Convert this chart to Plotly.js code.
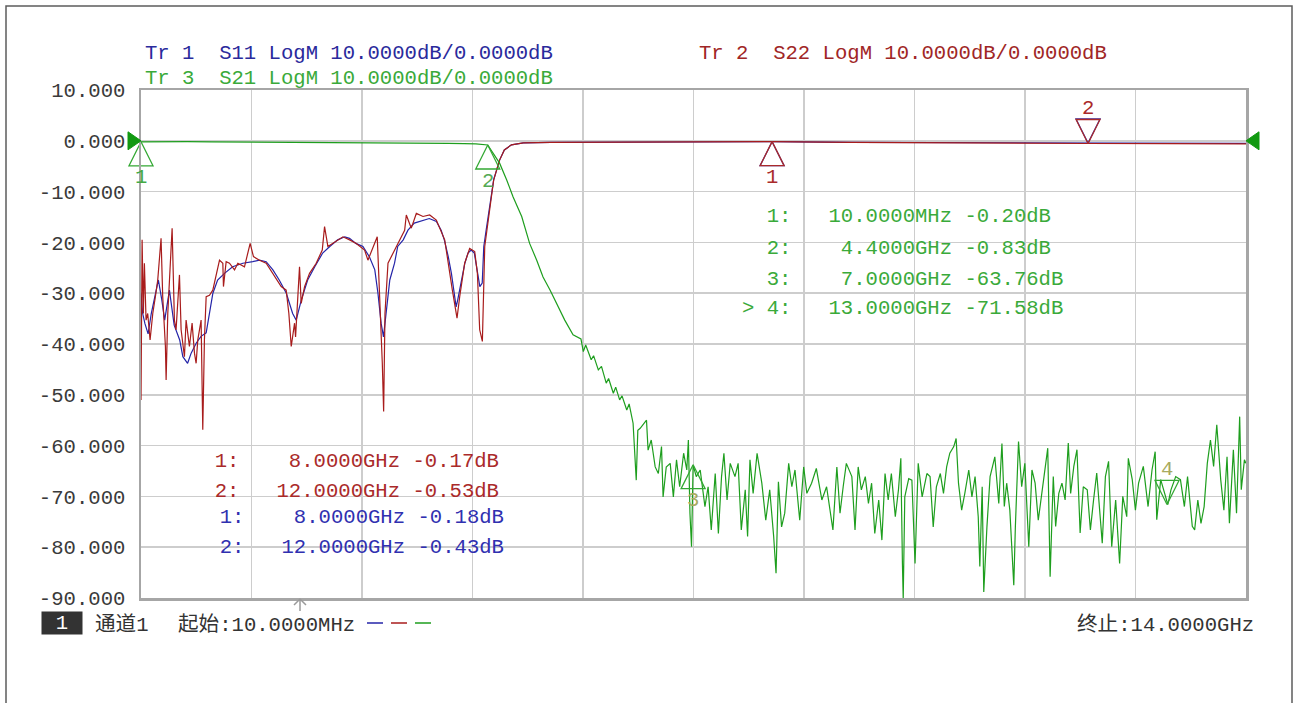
<!DOCTYPE html>
<html><head><meta charset="utf-8">
<script src="https://cdn.plot.ly/plotly-3.0.1.min.js"></script>
<style>html,body{margin:0;padding:0;background:#fff;overflow:hidden}#chart{width:1294px;height:703px}</style>
</head><body><div id="chart"></div><script>
// ---------- sweep / axis settings ----------
const startGHz = 0.01;
const stopGHz = 14.0;
const refLevel = 0;
const yTickVals = [10, 0, -10, -20, -30, -40, -50, -60, -70, -80, -90];
const yTickText = ['10.000', '0.000', '-10.000', '-20.000', '-30.000', '-40.000', '-50.000', '-60.000', '-70.000', '-80.000', '-90.000'];

// ---------- Tr 1 : S11 (blue) ----------
const s11Freq = [0.01,0.03,0.06,0.10,0.14,0.18,0.23,0.27,0.31,0.37,
  0.43,0.50,0.54,0.60,0.645,0.71,0.77,0.835,0.877,0.92,
  0.98,1.067,1.17,1.30,1.425,1.51,1.595,1.68,1.76,1.85,
  1.93,1.975,2.04,2.12,2.21,2.31,2.40,2.50,2.59,2.65,
  2.73,2.82,2.90,2.97,3.01,3.05,3.08,3.12,3.16,3.22,
  3.26,3.33,3.39,3.47,3.58,3.66,3.75,3.81,3.85,3.90,
  3.94,3.97,4.00,4.02,4.07,4.11,4.15,4.19,4.23,4.26,
  4.30,4.33,4.35,4.38,4.42,4.475,4.55,4.61,4.70,4.85,
  5.2,6.0,7.0,8.0,9.0,10.0,11.0,12.0,13.0,14.0];
const s11dB = [-30,-33.9,-36,-38,-34,-31,-27.4,-31,-35.3,-29.4,
  -36.3,-39.2,-42.5,-43.8,-41.8,-39.8,-38.5,-37.8,-33.9,-30,
  -27.4,-26.1,-24.8,-24.1,-23.8,-23.5,-23.8,-25.4,-27.4,-30,
  -34,-35.3,-31.3,-27.4,-24.8,-22.1,-20.8,-19.5,-18.9,-19.2,
  -20.2,-20.8,-22.8,-25.4,-30,-35.9,-38.6,-33,-27.4,-24.1,
  -20.8,-19.5,-17.6,-16.2,-15.6,-15.3,-15.9,-17.6,-19.5,-22.8,
  -26.1,-30,-32.7,-31.3,-27.4,-24.1,-22.1,-21.5,-22.1,-24.8,
  -28.7,-28.0,-20.8,-17.6,-13,-7.7,-3.8,-1.8,-0.8,-0.4,
  -0.3,-0.25,-0.2,-0.18,-0.3,-0.35,-0.4,-0.43,-0.45,-0.5];

// ---------- Tr 2 : S22 (red) ----------
const s22Freq = [0.01,0.024,0.040,0.053,0.074,0.095,0.125,0.159,0.192,0.222,
  0.264,0.285,0.319,0.328,0.349,0.370,0.404,0.433,0.454,0.497,
  0.518,0.560,0.581,0.623,0.657,0.687,0.708,0.729,0.771,0.792,
  0.813,0.835,0.877,0.919,1.004,1.046,1.054,1.088,1.130,1.194,
  1.236,1.320,1.363,1.392,1.434,1.510,1.595,1.679,1.785,1.848,
  1.882,1.912,1.954,1.967,2.017,2.038,2.081,2.144,2.228,2.305,
  2.334,2.376,2.440,2.566,2.651,2.735,2.841,2.883,3.001,3.022,
  3.065,3.082,3.099,3.137,3.200,3.242,3.306,3.348,3.369,3.432,
  3.496,3.580,3.665,3.749,3.855,3.927,3.952,4.011,4.045,4.108,
  4.171,4.235,4.269,4.298,4.332,4.362,4.416,4.475,4.55,4.61,
  4.70,4.85,5.2,6.0,7.0,8.0,9.0,10.0,11.0,12.0,
  13.0,14.0];
const s22dB = [-51.0,-19.5,-34.0,-24.1,-35.3,-34.0,-39.2,-34.0,-30.7,-27.4,
  -19.2,-30.7,-40.5,-47.1,-34.0,-26.7,-17.2,-35.3,-37.2,-26.4,
  -37.2,-42.5,-35.3,-40.5,-35.9,-41.8,-43.8,-39.2,-35.3,-56.9,
  -39.2,-30.7,-30.4,-29.4,-23.5,-24.1,-28.7,-23.8,-24.1,-25.4,
  -24.1,-24.8,-22.2,-20.2,-22.8,-23.5,-24.1,-26.1,-28.7,-29.4,
  -34.0,-40.5,-35.9,-38.6,-24.8,-32.0,-28.7,-26.1,-24.1,-21.5,
  -16.9,-20.8,-20.2,-18.9,-19.5,-20.2,-21.5,-23.5,-18.9,-26.7,
  -43.8,-53.3,-34.0,-24.1,-22.2,-20.8,-18.9,-17.6,-14.6,-17.2,
  -14.3,-14.9,-14.6,-15.6,-19.5,-27.4,-29.4,-34.9,-30.7,-24.1,
  -21.2,-21.8,-26.1,-37.2,-39.5,-20.8,-14.3,-7.7,-3.8,-1.8,
  -0.8,-0.4,-0.3,-0.22,-0.2,-0.17,-0.3,-0.4,-0.45,-0.53,
  -0.55,-0.6];

// ---------- Tr 3 : S21 (green) ----------
const s21PassFreq = [0.01,0.3,0.6,0.9,1.2,1.5,1.8,2.1,2.4,2.7,
  2.9,3.1,3.3,3.5,3.7,3.9,4.1,4.25,4.4];
const s21PassdB = [-0.20,-0.15,-0.18,-0.20,-0.22,-0.20,-0.25,-0.30,-0.28,-0.35,
  -0.30,-0.40,-0.35,-0.45,-0.40,-0.50,-0.55,-0.60,-0.83];
const s21RollFreq = [4.55,4.64,4.72,4.83,4.89,4.93,5.02,5.10,5.19,5.27,
  5.375,5.48,5.58,5.61,5.64,5.71,5.74,5.80,5.84,5.90,
  5.93,5.99,6.02,6.07,6.10,6.16,6.19,6.24,6.28,6.30];
const s21RolldB = [-4.4,-7.7,-11.0,-14.9,-18.2,-20.2,-23.5,-26.8,-29.4,-32.0,
  -35.3,-38.2,-39.0,-41.5,-40.2,-43.1,-42.3,-45.1,-44.4,-47.7,
  -46.8,-49.7,-48.5,-51.0,-50.2,-53.0,-51.8,-55.6,-66.8,-57.0];
const s21StopFreq = [6.33,6.41,6.43,6.47,6.52,6.56,6.60,6.62,6.66,6.71,
  6.75,6.79,6.83,6.88,6.92,6.94,6.96,6.98,7.00,7.04,
  7.09,7.15,7.19,7.23,7.28,7.32,7.36,7.39,7.43,7.47,
  7.53,7.57,7.61,7.66,7.69,7.72,7.76,7.81,7.87,7.92,
  7.97,8.02,8.05,8.08,8.12,8.16,8.21,8.25,8.29,8.35,
  8.40,8.44,8.50,8.56,8.63,8.69,8.77,8.82,8.86,8.90,
  8.94,9.01,9.05,9.09,9.13,9.18,9.22,9.26,9.30,9.35,
  9.39,9.43,9.47,9.51,9.56,9.60,9.63,9.65,9.66,9.68,
  9.73,9.77,9.81,9.85,9.90,9.96,10.00,10.04,10.08,10.13,
  10.17,10.21,10.25,10.30,10.33,10.36,10.40,10.44,10.49,10.53,
  10.57,10.61,10.63,10.66,10.68,10.72,10.76,10.82,10.87,10.91,
  10.94,10.97,11.01,11.06,11.08,11.12,11.16,11.20,11.25,11.29,
  11.33,11.37,11.44,11.49,11.52,11.56,11.59,11.63,11.67,11.71,
  11.75,11.78,11.82,11.86,11.90,11.94,11.99,12.03,12.07,12.11,
  12.18,12.22,12.26,12.30,12.35,12.40,12.44,12.49,12.51,12.56,
  12.60,12.64,12.70,12.76,12.81,12.85,12.87,12.92,12.97,13.01,
  13.05,13.11,13.17,13.22,13.26,13.32,13.35,13.39,13.43,13.47,
  13.51,13.55,13.59,13.63,13.68,13.72,13.76,13.79,13.84,13.88,
  13.92,13.94,13.98,14.00];
const s21StopdB = [-56.6,-55.0,-60.9,-58.9,-64.2,-65.5,-60.2,-70.1,-64.2,-63.5,
  -70.1,-62.8,-68.1,-61.5,-64.8,-58.9,-73.3,-79.9,-63.8,-66.1,
  -64.8,-72.0,-68.1,-76.6,-65.5,-77.3,-66.1,-61.5,-70.7,-63.5,
  -66.1,-63.5,-76.6,-68.7,-77.9,-62.8,-69.4,-61.5,-67.4,-74.7,
  -68.7,-77.9,-85.1,-67.1,-76.0,-73.3,-63.5,-68.1,-64.8,-74.7,
  -64.2,-69.4,-67.4,-64.5,-70.7,-68.1,-76.6,-64.2,-73.3,-68.1,
  -63.5,-66.1,-76.6,-64.2,-68.7,-66.1,-71.4,-67.4,-77.3,-70.7,
  -78.6,-65.5,-70.7,-65.5,-74.0,-68.7,-62.5,-83.2,-90.1,-70.1,
  -66.5,-66.8,-83.2,-63.5,-70.1,-65.5,-66.1,-76.0,-68.1,-65.5,
  -69.4,-64.2,-61.5,-60.2,-58.6,-67.4,-72.7,-69.4,-64.8,-70.1,
  -66.1,-74.0,-83.8,-68.1,-88.8,-76.0,-66.1,-62.2,-71.4,-59.6,
  -72.0,-67.4,-72.7,-87.5,-76.0,-59.2,-68.1,-63.5,-79.9,-64.8,
  -67.4,-74.7,-66.1,-60.5,-85.8,-66.1,-75.9,-69.4,-67.4,-70.7,
  -59.5,-69.4,-64.1,-60.8,-77.2,-68.1,-68.7,-76.6,-70.7,-65.4,
  -79.2,-66.1,-63.1,-79.9,-70.7,-83.2,-70.0,-74.0,-62.5,-66.7,
  -72.7,-67.4,-64.1,-72.0,-64.8,-61.2,-74.6,-66.7,-69.4,-71.6,
  -68.7,-66.1,-66.7,-72.0,-66.1,-75.9,-76.6,-70.7,-75.3,-72.0,
  -63.5,-58.9,-64.1,-55.9,-66.7,-72.7,-62.2,-75.3,-60.8,-73.3,
  -54.3,-68.7,-62.8,-63.5];

// ---------- markers ----------
const s21MkFreq = [0.01, 4.4, 7.0, 13.0];
const s21MkdB = [-0.20, -0.83, -63.76, -71.58];
const s21MkActive = [false, false, false, true];
const s22MkFreq = [8.0, 12.0];
const s22MkdB = [-0.17, -0.53];
const s22MkActive = [false, true];
const s11MkFreq = [8.0, 12.0];
const s11MkdB = [-0.18, -0.43];
const s11MkActive = [false, true];

// ---------- texts ----------
const hdrTr1 = 'Tr 1  S11 LogM 10.0000dB/0.0000dB';
const hdrTr2 = 'Tr 2  S22 LogM 10.0000dB/0.0000dB';
const hdrTr3 = 'Tr 3  S21 LogM 10.0000dB/0.0000dB';
const chanLabel = '通道1';
const startLabel = '起始:10.0000MHz';
const stopLabel = '终止:14.0000GHz';

// ---------- styling ----------
const FONT = "'Liberation Mono', 'Noto Sans CJK SC', monospace";
const FS = 20.6;
const C_BLUE = '#2424a8', C_RED = '#a81c1c', C_GREEN = '#1e9e1e';
const C_BLUE_T = '#3030b0', C_RED_T = '#aa2a2a', C_GREEN_T = '#3aaa3a';

const M = {l: 141, r: 48, t: 90, b: 105};
const W = 1294 - M.l - M.r, H = 703 - M.t - M.b;
const px = x => (x - M.l) / W;
const py = y => (703 - M.b - y) / H;
const nb = s => s.replace(/ /g, '\u00a0');

function note(text, x, y, color, anchor) {
  return {xref: 'paper', yref: 'paper', x: px(x), y: py(y), xanchor: anchor || 'left', yanchor: 'middle',
    text: nb(text), showarrow: false, font: {family: FONT, size: FS, color: color}};
}
function fmtFreq(f) {
  const s = f < 1 ? (f * 1000).toFixed(4) + 'MHz' : f.toFixed(4) + 'GHz';
  return s.padStart(10, ' ');
}
function mkLine(i, f, v, active) {
  return (active ? '> ' : '  ') + (i + 1) + ':   ' + fmtFreq(f) + ' ' + v.toFixed(2) + 'dB';
}

const s21Freq = s21PassFreq.concat(s21RollFreq, s21StopFreq);
const s21dB = s21PassdB.concat(s21RolldB, s21StopdB);

function lineTrace(x, y, color) {
  return {x: x, y: y, type: 'scatter', mode: 'lines', line: {color: color, width: 1.2}, hoverinfo: 'skip'};
}
function markerTrace(x, y, active, color) {
  return {x: x, y: y, type: 'scatter', mode: 'markers', cliponaxis: false, hoverinfo: 'skip',
    marker: {symbol: active.map(a => a ? 'arrow-down-open' : 'arrow-up-open'), size: 24,
      color: color, line: {color: color, width: 1.3}}};
}

const data = [
  lineTrace(s11Freq, s11dB, C_BLUE),
  lineTrace(s22Freq, s22dB, C_RED),
  lineTrace(s21Freq, s21dB, C_GREEN),
  markerTrace(s11MkFreq, s11MkdB, s11MkActive, C_BLUE_T),
  markerTrace(s22MkFreq, s22MkdB, s22MkActive, C_RED_T),
  markerTrace(s21MkFreq, s21MkdB, s21MkActive, '#33a833')
];

const annotations = [
  note(hdrTr1, 143, 54, '#2a2a9c'),
  note(hdrTr3, 143, 78, C_GREEN_T),
  note(hdrTr2, 697, 54, '#a02626'),
  note(chanLabel, 93, 625, '#333'),
  note(startLabel, 176, 625, '#333'),
  note(stopLabel, 1256, 625, '#333', 'right'),
  {xref: 'paper', yref: 'paper', x: px(62), y: py(623), xanchor: 'center', yanchor: 'middle', text: '1',
    showarrow: false, bgcolor: '#333', width: 38, height: 20, font: {family: FONT, size: FS, color: '#fff'}}
];
// marker tables
const greenRows = [216.7, 248, 279, 308];
s21MkFreq.forEach((f, i) => annotations.push(note(mkLine(i, f, s21MkdB[i], s21MkActive[i]), 740, greenRows[i], C_GREEN_T)));
const redRows = [461.7, 491.7];
s22MkFreq.forEach((f, i) => annotations.push(note(mkLine(i, f, s22MkdB[i], false), 188, redRows[i], C_RED_T)));
const blueRows = [517, 547.7];
s11MkFreq.forEach((f, i) => annotations.push(note(mkLine(i, f, s11MkdB[i], false), 193, blueRows[i], C_BLUE_T)));
// marker number labels
function mkLabels(fr, vals, active, colors) {
  fr.forEach((f, i) => annotations.push({x: f, y: vals[i], xref: 'x', yref: 'y', text: String(i + 1), showarrow: false,
    yshift: active[i] ? 35 : -36, font: {family: FONT, size: FS, color: colors[i]}}));
}
mkLabels(s22MkFreq, s22MkdB, s22MkActive, [C_RED_T, C_RED_T]);
mkLabels(s21MkFreq, s21MkdB, s21MkActive, ['#44aa44', '#55aa55', '#a8aa60', '#a8aa60']);

const shapes = [
  // outer frame
  {type: 'rect', xref: 'paper', yref: 'paper', x0: px(6), x1: px(1292), y0: py(740), y1: py(6),
    line: {color: '#5c5c5c', width: 1.5}, fillcolor: 'rgba(0,0,0,0)'},
  // reference level arrows
  {type: 'path', xref: 'paper', yref: 'y', xsizemode: 'pixel', ysizemode: 'pixel', xanchor: 0, yanchor: refLevel,
    path: 'M0,0 L-13,9 L-13,-9 Z', fillcolor: '#119911', line: {color: '#119911', width: 1}},
  {type: 'path', xref: 'paper', yref: 'y', xsizemode: 'pixel', ysizemode: 'pixel', xanchor: 1, yanchor: refLevel,
    path: 'M0,0 L13,9 L13,-9 Z', fillcolor: '#119911', line: {color: '#119911', width: 1}},
  // small pointer under the axis
  {type: 'path', xref: 'paper', yref: 'paper', xsizemode: 'pixel', ysizemode: 'pixel', xanchor: px(300), yanchor: 0,
    path: 'M0,-1 L0,-13 M-6,-7 L0,-1 L6,-7', line: {color: '#9a9a9a', width: 1.5}},
  // trace colour dashes
  {type: 'line', xref: 'paper', yref: 'paper', x0: px(367), x1: px(383), y0: py(623), y1: py(623), line: {color: C_BLUE, width: 1.5}},
  {type: 'line', xref: 'paper', yref: 'paper', x0: px(391), x1: px(407), y0: py(623), y1: py(623), line: {color: C_RED, width: 1.5}},
  {type: 'line', xref: 'paper', yref: 'paper', x0: px(415), x1: px(431), y0: py(623), y1: py(623), line: {color: C_GREEN, width: 1.5}}
];

const layout = {
  width: 1294, height: 703, margin: M,
  paper_bgcolor: '#fff', plot_bgcolor: '#fff', showlegend: false,
  font: {family: FONT, size: FS, color: '#3a3a3a'},
  xaxis: {range: [startGHz, stopGHz], tick0: startGHz, dtick: (stopGHz - startGHz) / 10, showticklabels: false,
    showgrid: true, gridcolor: '#cdcdcd', gridwidth: 1.5, zeroline: false, showline: true, mirror: true,
    linecolor: '#a6a6a6', linewidth: 2.5, ticks: '', fixedrange: true},
  yaxis: {range: [-90, 10], tickmode: 'array', tickvals: yTickVals, ticktext: yTickText, ticklabelstandoff: 9,
    showgrid: true, gridcolor: '#cdcdcd', gridwidth: 1.5, zeroline: false, showline: true, mirror: true,
    linecolor: '#a6a6a6', linewidth: 2.5, ticks: '', fixedrange: true,
    tickfont: {family: FONT, size: FS, color: '#3a3a3a'}},
  annotations: annotations,
  shapes: shapes
};

Plotly.newPlot('chart', data, layout, {displayModeBar: false, staticPlot: true});
</script></body></html>
